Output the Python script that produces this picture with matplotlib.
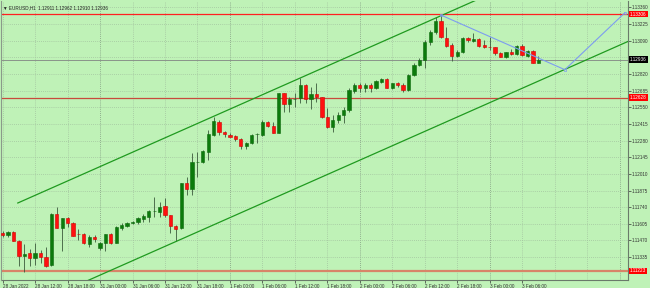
import numpy as np
import matplotlib.pyplot as plt

plt.rcParams['font.family'] = ['Liberation Sans', 'DejaVu Sans']

# EURUSD H1, 28 Jan 2022 06:00 .. 3 Feb 2022 09:00
opens = [1.11528, 1.11517, 1.11541, 1.11466, 1.11344, 1.11366, 1.11326, 1.11371, 1.11334, 1.11271,
         1.11685, 1.11574, 1.11650, 1.11609, 1.11520, 1.11520, 1.11439, 1.11501, 1.11412, 1.11447,
         1.11523, 1.11452, 1.11574, 1.11590, 1.11609, 1.11618, 1.11644, 1.11663, 1.11707, 1.11704,
         1.11750, 1.11677, 1.11590, 1.11569, 1.11934, 1.11888, 1.12104, 1.12104, 1.12190, 1.12325,
         1.12433, 1.12352, 1.12325, 1.12317, 1.12291, 1.12239, 1.12258, 1.12331, 1.12325, 1.12428,
         1.12398, 1.12344, 1.12664, 1.12574, 1.12615, 1.12623, 1.12731, 1.12615, 1.12658, 1.12631,
         1.12474, 1.12393, 1.12447, 1.12488, 1.12528, 1.12685, 1.12731, 1.12709, 1.12731, 1.12709,
         1.12758, 1.12777, 1.12704, 1.12745, 1.12731, 1.12690, 1.12812, 1.12893, 1.12934, 1.13082,
         1.13163, 1.13252, 1.13109, 1.13055, 1.12966, 1.12996, 1.13114, 1.13090, 1.13101, 1.13055,
         1.13041, 1.13036, 1.12993, 1.12960, 1.13001, 1.12982, 1.13047, 1.12968, 1.13009, 1.12911]
highs = [1.11547, 1.11549, 1.11547, 1.11470, 1.11442, 1.11401, 1.11450, 1.11393, 1.11417, 1.11693,
         1.11742, 1.11652, 1.11663, 1.11622, 1.11563, 1.11527, 1.11515, 1.11515, 1.11460, 1.11523,
         1.11531, 1.11584, 1.11609, 1.11622, 1.11632, 1.11663, 1.11685, 1.11717, 1.11825, 1.11785,
         1.11812, 1.11677, 1.11598, 1.11937, 1.11982, 1.12177, 1.12190, 1.12204, 1.12366, 1.12474,
         1.12447, 1.12360, 1.12339, 1.12325, 1.12299, 1.12271, 1.12334, 1.12339, 1.12447, 1.12441,
         1.12433, 1.12666, 1.12668, 1.12636, 1.12664, 1.12785, 1.12739, 1.12717, 1.12745, 1.12636,
         1.12542, 1.12488, 1.12514, 1.12555, 1.12704, 1.12745, 1.12745, 1.12745, 1.12745, 1.12771,
         1.12785, 1.12785, 1.12749, 1.12758, 1.12745, 1.12820, 1.12909, 1.12950, 1.13096, 1.13177,
         1.13285, 1.13298, 1.13204, 1.13074, 1.13015, 1.13120, 1.13122, 1.13150, 1.13109, 1.13096,
         1.13122, 1.13041, 1.13001, 1.13001, 1.13020, 1.13055, 1.13063, 1.13015, 1.13015, 1.12962]
lows = [1.11498, 1.11501, 1.11466, 1.11263, 1.11215, 1.11263, 1.11271, 1.11288, 1.11255, 1.11263,
        1.11571, 1.11387, 1.11579, 1.11507, 1.11474, 1.11442, 1.11415, 1.11460, 1.11393, 1.11385,
        1.11442, 1.11446, 1.11555, 1.11577, 1.11604, 1.11604, 1.11622, 1.11622, 1.11663, 1.11663,
        1.11663, 1.11528, 1.11468, 1.11563, 1.11839, 1.11839, 1.11987, 1.12098, 1.12123, 1.12317,
        1.12325, 1.12312, 1.12307, 1.12279, 1.12210, 1.12210, 1.12252, 1.12258, 1.12317, 1.12393,
        1.12339, 1.12342, 1.12514, 1.12514, 1.12555, 1.12582, 1.12582, 1.12534, 1.12596, 1.12461,
        1.12380, 1.12352, 1.12420, 1.12420, 1.12514, 1.12664, 1.12677, 1.12677, 1.12677, 1.12696,
        1.12745, 1.12704, 1.12696, 1.12717, 1.12677, 1.12682, 1.12804, 1.12885, 1.12869, 1.13055,
        1.13144, 1.13112, 1.13039, 1.12928, 1.12958, 1.12990, 1.13082, 1.13079, 1.13041, 1.13028,
        1.13015, 1.12974, 1.12955, 1.12947, 1.12974, 1.12974, 1.12966, 1.12958, 1.12909, 1.12910]
closes = [1.11517, 1.11541, 1.11468, 1.11347, 1.11361, 1.11326, 1.11371, 1.11334, 1.11263, 1.11685,
          1.11574, 1.11650, 1.11609, 1.11509, 1.11519, 1.11447, 1.11501, 1.11482, 1.11447, 1.11520,
          1.11447, 1.11577, 1.11596, 1.11609, 1.11622, 1.11650, 1.11669, 1.11709, 1.11709, 1.11744,
          1.11677, 1.11590, 1.11561, 1.11934, 1.11888, 1.12104, 1.12107, 1.12196, 1.12334, 1.12439,
          1.12352, 1.12331, 1.12312, 1.12291, 1.12239, 1.12258, 1.12325, 1.12334, 1.12428, 1.12398,
          1.12344, 1.12664, 1.12574, 1.12615, 1.12617, 1.12731, 1.12615, 1.12658, 1.12631, 1.12469,
          1.12393, 1.12447, 1.12488, 1.12528, 1.12690, 1.12731, 1.12709, 1.12731, 1.12709, 1.12763,
          1.12777, 1.12709, 1.12745, 1.12731, 1.12690, 1.12812, 1.12893, 1.12934, 1.13082, 1.13163,
          1.13252, 1.13118, 1.13047, 1.12966, 1.12996, 1.13109, 1.13096, 1.13101, 1.13049, 1.13041,
          1.13040, 1.12993, 1.12960, 1.13001, 1.12982, 1.13047, 1.12974, 1.13009, 1.12912, 1.12936]

time_labels = ["28 Jan 2022", "28 Jan 12:00", "28 Jan 18:00", "31 Jan 00:00", "31 Jan 06:00",
               "31 Jan 12:00", "31 Jan 18:00", "1 Feb 00:00", "1 Feb 06:00", "1 Feb 12:00",
               "1 Feb 18:00", "2 Feb 00:00", "2 Feb 06:00", "2 Feb 12:00", "2 Feb 18:00",
               "3 Feb 00:00", "3 Feb 06:00"]
price_ticks = [1.13360, 1.13225, 1.13090, 1.12955, 1.12820, 1.12685, 1.12550, 1.12415,
               1.12280, 1.12145, 1.12010, 1.11875, 1.11740, 1.11605, 1.11470, 1.11335]

red_levels = [1.13306, 1.12628, 1.11223]
# equidistant channel: two anchors of the upper line, width of the channel
chan_bars = [2.8, 80.5]
chan_prices = [1.11774, 1.13283]
chan_width = 0.00880
# hand drawn blue projection
proj_bars = [81, 103.9, 115.0]
proj_prices = [1.13298, 1.12855, 1.13317]

bg = '#bff2b7'
fs = 3.3
fig = plt.figure(figsize=(6.5, 2.88), dpi=100, facecolor=bg)
ax = fig.add_axes([0.0015, 0.028, 0.9645, 0.9685])
ax.set_facecolor(bg)
ax.set_xlim(-0.31, 115.55)
ax.set_ylim(1.11150, 1.13412)

n = len(opens)
x = np.arange(n)

# grid
for i in range(0, 116, 6):
    day = (i - 18) % 24 == 0
    ax.axvline(i, color='#7f987f' if day else '#a3c3a0', lw=0.6, ls=(0, (1, 1.5)), zorder=0)
for p in price_ticks:
    ax.axhline(p, color='#a3c3a0', lw=0.6, ls=(0, (1, 1.5)), zorder=0)

# candles
o = np.array(opens); c = np.array(closes)
up = c >= o
ax.vlines(x, lows, highs, color='#3b5a3b', lw=0.6, zorder=2)
ax.bar(x[up], (c - o)[up], bottom=o[up], width=0.6, color='#0c7a0c',
       edgecolor='#0c6a0c', lw=0.4, zorder=3)
ax.bar(x[~up], (o - c)[~up], bottom=c[~up], width=0.6, color='#ff1010',
       edgecolor='#d00000', lw=0.4, zorder=3)

# levels
ax.axhline(red_levels[0], color='#ff2020', lw=0.9, zorder=1)
ax.axhline(red_levels[1], color='#c84a3c', lw=0.9, zorder=1)
ax.axhline(red_levels[2], color='#d88468', lw=1.6, zorder=1)
ax.axhline(closes[-1], color='#8a948a', lw=0.7, zorder=1)

# channel
slope = (chan_prices[1] - chan_prices[0]) / (chan_bars[1] - chan_bars[0])
xe = 130
ye = chan_prices[0] + slope * (xe - chan_bars[0])
ax.plot([chan_bars[0], xe], [chan_prices[0], ye], color='#1f9a1f', lw=0.9, zorder=4)
ax.plot([chan_bars[0], xe], [chan_prices[0] - chan_width, ye - chan_width],
        color='#1f9a1f', lw=0.9, zorder=4)

ax.plot(proj_bars, proj_prices, color='#7d9cf0', lw=0.8, zorder=4,
        marker='s', ms=1.5, mfc='none', mec='#7d9cf0', mew=0.5)

# axes
for s in ['top', 'bottom', 'left']:
    ax.spines[s].set_visible(False)
ax.spines['right'].set_color('#6a7a6a')
ax.spines['right'].set_linewidth(0.8)
ax.plot([0, 1], [0, 0], transform=ax.transAxes, color='#6a7a6a', lw=0.8, clip_on=False)
ax.plot([0, 0], [0, 1], transform=ax.transAxes, color='#8a9a8a', lw=0.8, clip_on=False)

# the tick label under the current-price box is hidden in the terminal
ytl = ['' if abs(p - closes[-1]) < 0.0004 else '%.5f' % p for p in price_ticks]
ax.yaxis.tick_right()
ax.set_yticks(price_ticks)
ax.set_yticklabels(ytl)
ax.tick_params(axis='y', length=2, width=0.5, pad=0.8, labelsize=fs, colors='#333333')
ax.set_xticks(np.arange(0, 6 * len(time_labels), 6))
ax.set_xticklabels(time_labels, ha='left')
ax.tick_params(axis='x', length=2, width=0.5, pad=1, labelsize=fs, colors='#333333')

def price_box(p, fc):
    ax.annotate('%.5f' % p, xy=(1.0, p), xycoords=('axes fraction', 'data'),
                xytext=(1.5, 0), textcoords='offset points', va='center', ha='left',
                fontsize=fs, color='white',
                bbox=dict(boxstyle='square,pad=0.2', fc=fc, ec='none'), zorder=6)

for p in red_levels:
    price_box(p, '#ff0000')
price_box(closes[-1], '#000000')

ax.text(0.004, 0.985, '\u25bc EURUSD,H1  %.5f %.5f %.5f %.5f' % (opens[-1], highs[-1], lows[-1], closes[-1]),
        transform=ax.transAxes, fontsize=fs, color='#222222', va='top', ha='left')

fig.savefig('out.png', dpi=100, facecolor=bg)
